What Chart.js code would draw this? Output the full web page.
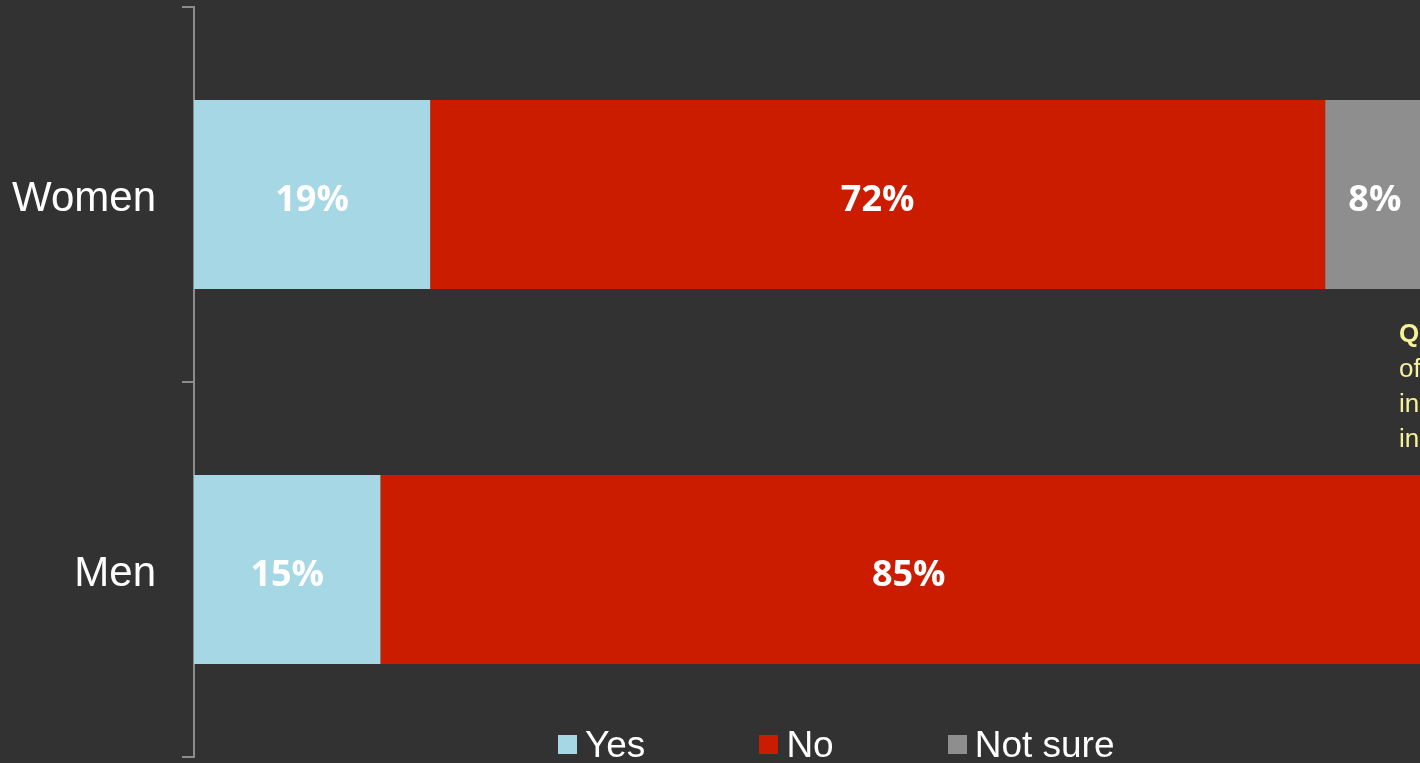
<!DOCTYPE html>
<html>
<head>
<meta charset="utf-8">
<script src="https://cdn.jsdelivr.net/npm/chart.js@4/dist/chart.umd.min.js"></script>
<style>
  html, body { margin: 0; padding: 0; background: #323232; width: 1420px; height: 763px; overflow: hidden; }
  #wrap { position: absolute; left: 0; top: 0; width: 1445px; height: 763px; }
  #note { position: absolute; left: 1399px; top: 316px; color: #F7F29A; font: 26px "Liberation Sans", Arial, sans-serif; line-height: 35px; white-space: nowrap; }
  #note b { font-weight: bold; }
  #legend { position: absolute; left: 558px; top: 727px; display: flex; font: 37px "Liberation Sans", Arial, sans-serif; color: #ffffff; white-space: nowrap; }
  .item { display: flex; align-items: flex-start; line-height: 36px; }
  .item + .item { margin-left: 114px; }
  .sw { width: 19px; height: 19px; margin-top: 8px; margin-right: 8px; }
</style>
</head>
<body>
<div id="wrap"><canvas id="c" width="1445" height="763"></canvas></div>
<div id="note"><b>Q:</b><br>of<br>in<br>in</div>
<div id="legend"></div>
<script>
// Survey answers by gender (percent of respondents)
const categories = ["Women", "Men"];
const seriesNames = ["Yes", "No", "Not sure"];
const yesValues = [19, 15];
const noValues = [72, 85];
const notSureValues = [8, 0];
const seriesColors = ["#A5D7E5", "#CC1C00", "#8E8E8E"];

const seriesValues = [yesValues, noValues, notSureValues];

// HTML legend built from the series
const legendEl = document.getElementById("legend");
seriesNames.forEach((name, i) => {
  const item = document.createElement("div");
  item.className = "item";
  const sw = document.createElement("span");
  sw.className = "sw";
  sw.style.background = seriesColors[i];
  const txt = document.createElement("span");
  txt.textContent = name;
  item.appendChild(sw);
  item.appendChild(txt);
  legendEl.appendChild(item);
});

// Draws the value of each segment centred inside it
const segmentLabels = {
  id: "segmentLabels",
  afterDatasetsDraw(chart) {
    const ctx = chart.ctx;
    ctx.save();
    ctx.fillStyle = "#ffffff";
    ctx.font = "bold 36px 'Open Sans', 'Noto Sans', sans-serif";
    ctx.textAlign = "center";
    ctx.textBaseline = "middle";
    chart.data.datasets.forEach((ds, di) => {
      const meta = chart.getDatasetMeta(di);
      meta.data.forEach((bar, i) => {
        const v = ds.data[i];
        if (!v) return;
        const cx = (bar.x + bar.base) / 2;
        ctx.fillText(v + "%", cx, bar.y + 6);
      });
    });
    ctx.restore();
  }
};

new Chart(document.getElementById("c"), {
  type: "bar",
  data: {
    labels: categories,
    datasets: seriesNames.map((name, i) => ({
      label: name,
      data: seriesValues[i],
      backgroundColor: seriesColors[i],
      borderWidth: 0,
      categoryPercentage: 1,
      barPercentage: 0.504
    }))
  },
  options: {
    indexAxis: "y",
    responsive: false,
    animation: false,
    layout: { padding: { top: 7, bottom: 6, left: 0, right: 8 } },
    plugins: { legend: { display: false }, tooltip: { enabled: false } },
    scales: {
      x: { stacked: true, min: 0, max: 100, display: false },
      y: {
        stacked: true,
        afterFit(scale) {
          scale.width = 194;
          scale.paddingTop = 0;
          scale.paddingBottom = 0;
        },
        border: { display: true, color: "#8C8C8C", width: 2 },
        grid: { display: true, drawOnChartArea: false, drawTicks: true, tickLength: 12, color: "#8C8C8C", lineWidth: 2, offset: true },
        ticks: { color: "#ffffff", padding: 26, labelOffset: 5, font: { family: "'Liberation Sans', Arial, sans-serif", size: 42 } }
      }
    }
  },
  plugins: [segmentLabels]
});
</script>
</body>
</html>
